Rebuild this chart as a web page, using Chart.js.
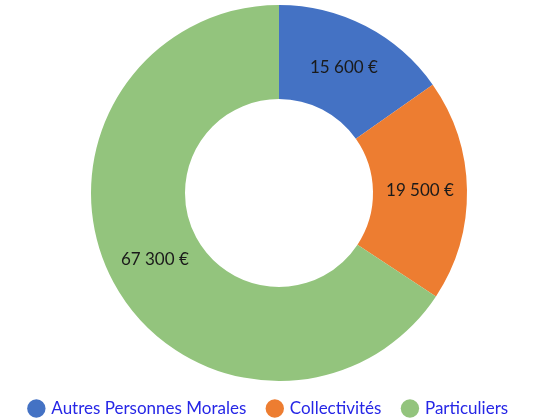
<!DOCTYPE html>
<html>
<head>
<meta charset="utf-8">
<script src="https://cdn.jsdelivr.net/npm/chart.js@4.4.1/dist/chart.umd.min.js"></script>
<style>
  html, body { margin: 0; padding: 0; background: #ffffff; }
  #wrap { width: 546px; height: 418px; }
</style>
</head>
<body>
<div id="wrap"><canvas id="donutChart"></canvas></div>
<script>
const categories = ['Autres Personnes Morales', 'Collectivités', 'Particuliers'];
const amounts = [15600, 19500, 67300];
const sliceColors = ['#4472c4', '#ed7d31', '#93c47d'];

function formatEuro(v) {
    return v.toString().replace(/\B(?=(\d{3})+(?!\d))/g, ' ') + ' €';
}

// étiquettes au centre de chaque part
const sliceLabels = {
    id: 'sliceLabels',
    afterDatasetsDraw(chart) {
        const ctx = chart.ctx;
        const meta = chart.getDatasetMeta(0);
        ctx.save();
        ctx.font = '17px Lato';
        ctx.fillStyle = '#1a1a1a';
        ctx.textAlign = 'center';
        ctx.textBaseline = 'middle';
        meta.data.forEach((arc, i) => {
            const p = arc.tooltipPosition();
            ctx.fillText(formatEuro(amounts[i]), p.x, p.y);
        });
        ctx.restore();
    }
};

// ajuste la zone du graphique et décale la légende
const layoutTweak = {
    id: 'layoutTweak',
    afterLayout(chart) {
        const area = chart.chartArea;
        area.bottom = 381;
        area.height = area.bottom - area.top;
        chart.legend.left -= 10;
        chart.legend.right -= 10;
        chart.legend.top += 9;
        chart.legend.bottom += 9;
    }
};

const donutCtx = document.getElementById('donutChart').getContext('2d');
const donutChart = new Chart(donutCtx, {
    type: 'doughnut',
    data: {
        labels: categories,
        datasets: [{
            data: amounts,
            backgroundColor: sliceColors,
            borderWidth: 0
        }]
    },
    options: {
        responsive: true,
        maintainAspectRatio: false,
        animation: false,
        cutout: '50%',
        layout: {
            padding: { top: 5, left: 12, bottom: 0 }
        },
        plugins: {
            tooltip: { enabled: false },
            legend: {
                position: 'bottom',
                labels: {
                    usePointStyle: true,
                    pointStyle: 'circle',
                    boxWidth: 13,
                    boxHeight: 13,
                    padding: 22,
                    color: '#2626e6',
                    font: { family: 'Lato', size: 17 }
                }
            }
        }
    },
    plugins: [sliceLabels, layoutTweak]
});
</script>
</body>
</html>
